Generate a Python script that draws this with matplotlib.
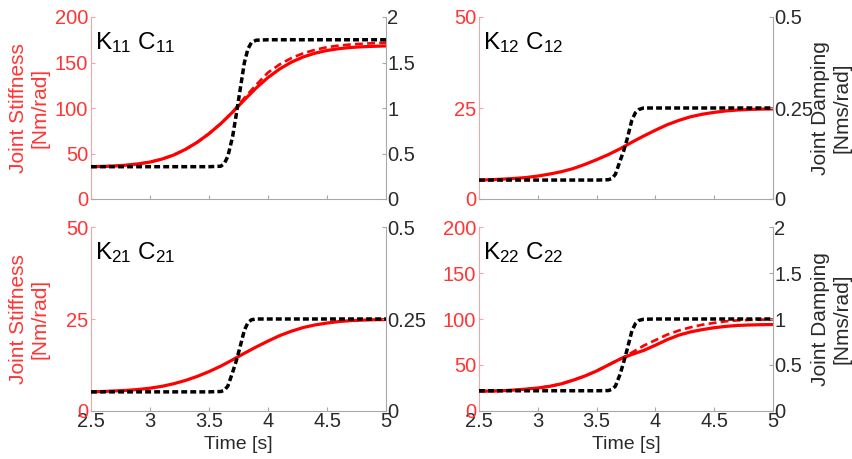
import numpy as np
import matplotlib
matplotlib.use("Agg")
import matplotlib.pyplot as plt

plt.rcParams['font.family'] = ['Liberation Sans', 'DejaVu Sans']
plt.rcParams['mathtext.fontset'] = 'custom'
plt.rcParams['mathtext.rm'] = 'Liberation Sans'
plt.rcParams['mathtext.it'] = 'Liberation Sans'
plt.rcParams['mathtext.bf'] = 'Liberation Sans:bold'

# ---- data ----
t_k = [2.5, 2.6, 2.7, 2.8, 2.9, 3.0, 3.1, 3.2, 3.3, 3.4, 3.5, 3.6, 3.7,
       3.8, 3.9, 4.0, 4.1, 4.2, 4.3, 4.4, 4.5, 4.6, 4.7, 4.8, 4.9, 5.0]
t_c = [2.5, 3.0, 3.5, 3.6, 3.63, 3.66, 3.7, 3.73, 3.76, 3.8, 3.83, 3.86,
       3.9, 4.0, 4.5, 5.0]

K11_est = [35.5, 35.8, 36.3, 37.2, 38.6, 40.6, 43.8, 48.3, 54.5, 62.3, 71.8,
           82.8, 95.5, 109, 122, 133.5, 143, 150.5, 156.2, 160.3, 163.2,
           165.2, 166.5, 167.3, 167.8, 168.2]
K11_ref = [35.5, 35.8, 36.3, 37.2, 38.6, 40.6, 43.8, 48.3, 54.5, 62.3, 71.8,
           82.8, 95.5, 111, 125.5, 139, 148, 155, 160.2, 164, 166.8,
           168.6, 169.8, 170.6, 171.2, 171.8]
C11 = [0.355, 0.355, 0.355, 0.36, 0.39, 0.47, 0.685, 0.92, 1.17, 1.50,
       1.65, 1.72, 1.745, 1.75, 1.75, 1.75]

K12_est = [5.2, 5.3, 5.45, 5.65, 5.9, 6.3, 6.85, 7.5, 8.35, 9.5, 10.8, 12.2,
           13.8, 15.6, 17.3, 18.9, 20.4, 21.6, 22.6, 23.3, 23.8, 24.2, 24.45,
           24.6, 24.7, 24.75]
C12 = [0.052, 0.052, 0.052, 0.053, 0.056, 0.068, 0.105, 0.132, 0.165, 0.217,
       0.237, 0.246, 0.25, 0.25, 0.25, 0.25]

K21_est = [5.2, 5.3, 5.45, 5.6, 5.85, 6.2, 6.7, 7.4, 8.3, 9.4, 10.7, 12.2,
           13.9, 15.7, 17.4, 19.0, 20.5, 21.7, 22.7, 23.4, 23.9, 24.3, 24.55,
           24.7, 24.8, 24.85]
C21 = [0.052, 0.052, 0.052, 0.053, 0.056, 0.068, 0.105, 0.135, 0.17, 0.22,
       0.24, 0.248, 0.25, 0.25, 0.25, 0.25]

K22_est = [21.5, 21.7, 22, 22.8, 23.8, 25, 26.8, 29.5, 33.5, 38, 43.5, 50,
           56.5, 61.5, 65.8, 71.5, 77.5, 82.5, 86, 88.5, 90.5, 92, 93, 93.5,
           93.8, 94]
K22_ref = [21.5, 21.7, 22, 22.8, 23.8, 25, 26.8, 29.5, 33.5, 38, 43.5, 50,
           56.5, 63.5, 71, 77, 83, 87.5, 91, 93.8, 95.8, 97.5, 98.5, 99, 99.3,
           99.5]
C22 = [0.22, 0.22, 0.22, 0.222, 0.235, 0.27, 0.40, 0.53, 0.67, 0.87, 0.95,
       0.985, 0.997, 1.0, 1.0, 1.0]

panels = [
    dict(name=('11', '11'), Kest=K11_est, Kref=K11_ref, C=C11,
         klim=200, kticks=[0, 50, 100, 150, 200], cticks=[0, 0.5, 1, 1.5, 2],
         cticklabels=['0', '0.5', '1', '1.5', '2']),
    dict(name=('12', '12'), Kest=K12_est, Kref=None, C=C12,
         klim=50, kticks=[0, 25, 50], cticks=[0, 0.25, 0.5],
         cticklabels=['0', '0.25', '0.5']),
    dict(name=('21', '21'), Kest=K21_est, Kref=None, C=C21,
         klim=50, kticks=[0, 25, 50], cticks=[0, 0.25, 0.5],
         cticklabels=['0', '0.25', '0.5']),
    dict(name=('22', '22'), Kest=K22_est, Kref=K22_ref, C=C22,
         klim=200, kticks=[0, 50, 100, 150, 200], cticks=[0, 0.5, 1, 1.5, 2],
         cticklabels=['0', '0.5', '1', '1.5', '2']),
]

xticks = [2.5, 3, 3.5, 4, 4.5, 5]
xticklabels = ['2.5', '3', '3.5', '4', '4.5', '5']

W, H = 852, 459
fig = plt.figure(figsize=(W / 100, H / 100), dpi=100)

boxes = [
    (91, 17, 386, 199),
    (479, 17, 773, 199),
    (91, 227, 386, 411),
    (479, 227, 773, 411),
]

RED = '#ff0000'
RED_TXT = '#ff3535'
PINK = '#f4a6a6'
GRAY = '#a8a8a8'
DARK = '#2a2a2a'
TICK_FS = 14.5
LAB_FS = 15

for i, (p, b) in enumerate(zip(panels, boxes)):
    x0, y0, x1, y1 = b
    ax = fig.add_axes([x0 / W, 1 - y1 / H, (x1 - x0) / W, (y1 - y0) / H])
    ax2 = ax.twinx()

    ax.plot(t_k, p['Kest'], color=RED, lw=2.3, zorder=3)
    if p['Kref'] is not None:
        ax.plot(t_k, p['Kref'], color=RED, lw=1.9, ls=(0, (3, 1.6)), zorder=3)
    ax2.plot(t_c, p['C'], color='black', lw=2.5, ls=(0, (1.7, 0.9)), zorder=4)

    ax.set_xlim(2.5, 5)
    ax.set_ylim(0, p['klim'])
    ax2.set_ylim(0, p['cticks'][-1])
    ax.set_yticks(p['kticks'])
    ax.set_yticklabels([str(v) for v in p['kticks']])
    ax2.set_yticks(p['cticks'])
    ax2.set_yticklabels(p['cticklabels'])
    ax.set_xticks(xticks)
    if i >= 2:
        ax.set_xticklabels(xticklabels)
        ax.set_xlabel('Time [s]', fontsize=14, color=DARK, labelpad=3)
    else:
        ax.set_xticklabels([])

    for a in (ax, ax2):
        a.spines['top'].set_visible(False)
        a.patch.set_visible(False)
    ax.spines['left'].set_color(PINK)
    ax.spines['bottom'].set_color(GRAY)
    ax.spines['right'].set_visible(False)
    ax2.spines['left'].set_visible(False)
    ax2.spines['bottom'].set_visible(False)
    ax2.spines['right'].set_color(GRAY)

    ax.tick_params(axis='y', direction='in', length=3, colors=PINK,
                   labelcolor=RED_TXT, labelsize=TICK_FS, pad=2)
    ax.tick_params(axis='x', direction='in', length=3, colors=GRAY,
                   labelcolor=DARK, labelsize=TICK_FS, pad=1)
    ax2.tick_params(axis='y', direction='in', length=3, colors=GRAY,
                    labelcolor=DARK, labelsize=TICK_FS, pad=1)

    ax.text(0.015, 0.93, r'$\mathrm{K_{%s}\ C_{%s}}$' % p['name'],
            transform=ax.transAxes, fontsize=17.5, color='black',
            va='top', ha='left')

    yc = 1 - (y0 + y1) / 2 / H
    if i % 2 == 0:
        fig.text(29 / W, yc, 'Joint Stiffness\n[Nm/rad]', color=RED_TXT,
                 fontsize=LAB_FS, rotation=90, ha='center', va='center',
                 linespacing=1.15)
    else:
        fig.text(831 / W, yc, 'Joint Damping\n[Nms/rad]', color=DARK,
                 fontsize=LAB_FS, rotation=90, ha='center', va='center',
                 linespacing=1.15)

fig.savefig('out.png', dpi=100)
